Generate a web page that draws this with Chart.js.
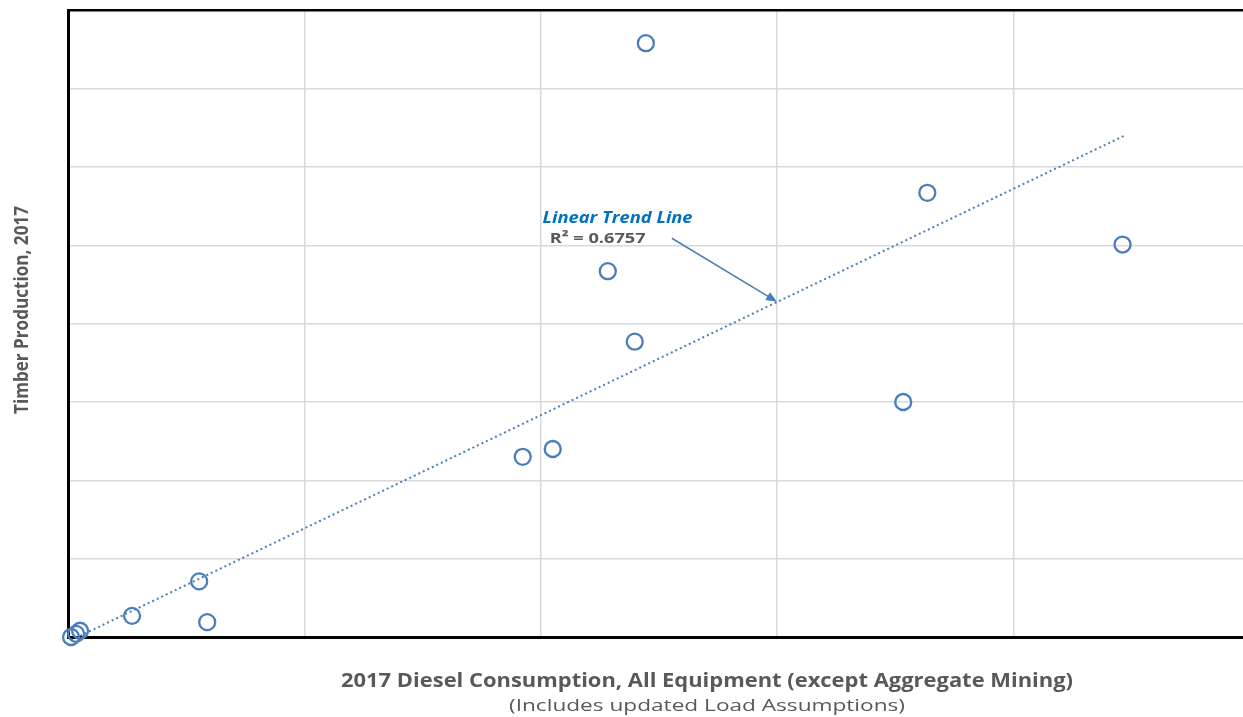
<!DOCTYPE html>
<html>
<head>
<meta charset="utf-8">
<script src="https://cdn.jsdelivr.net/npm/chart.js@4"></script>
<style>
  html, body { margin: 0; padding: 0; background: #fff; overflow: hidden; }
  #wrap { width: 1260px; height: 717px; }
</style>
</head>
<body>
<div id="wrap"><canvas id="chart" width="1260" height="717"></canvas></div>
<script>
// diesel consumption vs timber production (no units shown on the axes)
const dieselUse = [2.445, 3.636, 4.462, 2.284, 2.398, 3.534, 2.051, 1.924, 0.555, 0.271, 0.589, 0.013, 0.034, 0.051];
const timberOut = [7.58, 5.67, 5.01, 4.67, 3.77, 3.00, 2.40, 2.30, 0.71, 0.27, 0.19, 0.00, 0.04, 0.08];

// end points of the linear fit
const trendX = [0.013, 4.47];
const trendY = [-0.04, 6.40];
const rSquared = '0.6757';

// callout: label anchor, arrow tail and arrow head (on the fit line)
const calloutLabel = { x: 2.008, y: 5.34 };
const calloutR2 = { x: 2.038, y: 5.09 };
const arrowFrom = { x: 2.555, y: 5.09 };
const arrowTo = { x: 3.0, y: 4.28 };

const xTitle = '2017 Diesel Consumption, All Equipment (except Aggregate Mining)';
const xSubtitle = '(Includes updated Load Assumptions)';
const yTitle = 'Timber Production, 2017';

const BLUE = '#4A7EBB';
const GREY_TEXT = '#595959';

const points = dieselUse.map((x, i) => ({ x: x, y: timberOut[i] }));
const trend = trendX.map((x, i) => ({ x: x, y: trendY[i] }));

// draws text squeezed/stretched to a given width
function fitText(ctx, text, cx, cy, width, font, color, rotate, align) {
  ctx.save();
  ctx.font = font;
  ctx.fillStyle = color;
  ctx.textAlign = align || 'center';
  ctx.textBaseline = 'middle';
  const w = ctx.measureText(text).width;
  ctx.translate(cx, cy);
  if (rotate) ctx.rotate(-Math.PI / 2);
  ctx.scale(width / w, 1);
  ctx.fillText(text, 0, 0);
  ctx.restore();
}

const decorations = {
  id: 'decorations',
  afterDatasetsDraw(chart) {
    const ctx = chart.ctx;
    const xs = chart.scales.x, ys = chart.scales.y;

    // callout arrow
    const x1 = xs.getPixelForValue(arrowFrom.x), y1 = ys.getPixelForValue(arrowFrom.y);
    const x2 = xs.getPixelForValue(arrowTo.x), y2 = ys.getPixelForValue(arrowTo.y);
    const ang = Math.atan2(y2 - y1, x2 - x1);
    ctx.save();
    ctx.strokeStyle = BLUE;
    ctx.fillStyle = BLUE;
    ctx.lineWidth = 1.5;
    ctx.beginPath();
    ctx.moveTo(x1, y1);
    ctx.lineTo(x2 - 8 * Math.cos(ang), y2 - 8 * Math.sin(ang));
    ctx.stroke();
    ctx.beginPath();
    ctx.moveTo(x2, y2);
    ctx.lineTo(x2 - 11 * Math.cos(ang) + 4.5 * Math.sin(ang), y2 - 11 * Math.sin(ang) - 4.5 * Math.cos(ang));
    ctx.lineTo(x2 - 11 * Math.cos(ang) - 4.5 * Math.sin(ang), y2 - 11 * Math.sin(ang) + 4.5 * Math.cos(ang));
    ctx.closePath();
    ctx.fill();
    ctx.restore();

    // callout text
    fitText(ctx, 'Linear Trend Line', xs.getPixelForValue(calloutLabel.x), ys.getPixelForValue(calloutLabel.y),
      150, 'italic bold 16px "Open Sans"', '#0070C0', false, 'left');
    fitText(ctx, 'R\u00B2 = ' + rSquared, xs.getPixelForValue(calloutR2.x), ys.getPixelForValue(calloutR2.y),
      96, 'bold 15px "Open Sans"', GREY_TEXT, false, 'left');

    // axis titles
    fitText(ctx, xTitle, 707, 682, 732, 'bold 19px "Open Sans"', GREY_TEXT, false);
    fitText(ctx, xSubtitle, 707, 706, 396, '17px "Open Sans"', GREY_TEXT, false);
    fitText(ctx, yTitle, 23, 310, 208, 'bold 19px "Open Sans"', GREY_TEXT, true);
  }
};

new Chart(document.getElementById('chart').getContext('2d'), {
  type: 'scatter',
  data: {
    datasets: [
      {
        label: 'Counties',
        data: points,
        pointStyle: 'circle',
        pointRadius: 8,
        pointHoverRadius: 8,
        pointBorderWidth: 2.3,
        pointBorderColor: BLUE,
        pointBackgroundColor: 'rgba(255,255,255,0)',
        clip: false,
        order: 1
      },
      {
        type: 'line',
        label: 'Linear',
        data: trend,
        borderColor: BLUE,
        borderWidth: 2,
        borderDash: [2, 3],
        pointRadius: 0,
        fill: false,
        clip: false,
        order: 2
      }
    ]
  },
  plugins: [decorations],
  options: {
    responsive: false,
    animation: false,
    layout: { padding: { left: 68, right: 2, top: 2, bottom: 80 } },
    plugins: {
      legend: { display: false },
      tooltip: { enabled: false }
    },
    scales: {
      x: {
        type: 'linear',
        min: 0,
        max: 5,
        ticks: { display: false, stepSize: 1 },
        grid: { color: '#D9D9D9', lineWidth: 1.5, drawTicks: false },
        border: { display: true, color: '#000', width: 3 }
      },
      y: {
        type: 'linear',
        min: 0,
        max: 8,
        ticks: { display: false, stepSize: 1 },
        grid: {
          color: (c) => (c.tick && c.tick.value === 8 ? '#000' : '#D9D9D9'),
          lineWidth: (c) => (c.tick && c.tick.value === 8 ? 2.5 : 1.5),
          drawTicks: false
        },
        border: { display: true, color: '#000', width: 3 }
      }
    }
  }
});
</script>
</body>
</html>
